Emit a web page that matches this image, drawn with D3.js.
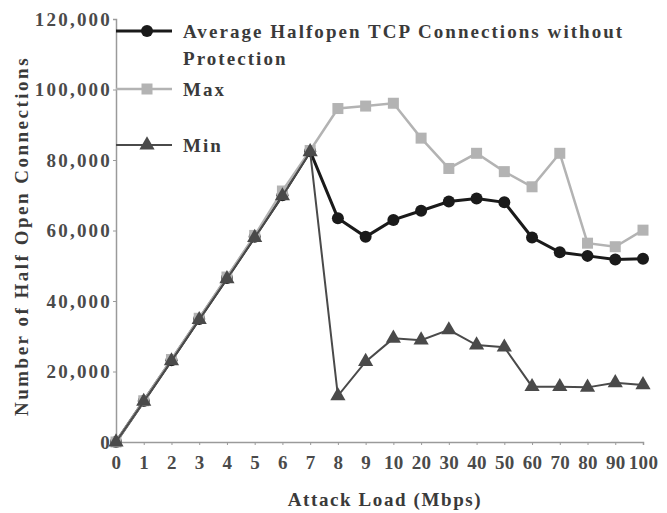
<!DOCTYPE html>
<html>
<head>
<meta charset="utf-8">
<script src="https://cdn.jsdelivr.net/npm/d3@7"></script>
<style>
  body { margin: 0; background: #fff; }
  svg text { font-family: "Liberation Serif", "DejaVu Serif", serif; fill: #3a3a3a; }
</style>
</head>
<body>
<svg id="chart"></svg>
<script>
// attack load categories (Mbps)
let loads = ["0","1","2","3","4","5","6","7","8","9","10","20","30","40","50","60","70","80","90","100"];

let avgConn = [0, 11600, 23200, 34900, 46500, 58200, 70000, 82500, 63500, 58200, 63000, 65600, 68200, 69100, 68000, 58000, 53800, 52800, 51800, 52000];
let maxConn = [0, 11700, 23400, 35100, 46800, 58600, 71200, 82700, 94600, 95300, 96100, 86200, 77600, 81900, 76700, 72400, 81900, 56400, 55400, 60100];
let minConn = [0, 11500, 23000, 34700, 46300, 58000, 69800, 82300, 13100, 22800, 29400, 28900, 31800, 27500, 26900, 15700, 15700, 15500, 16800, 16200];

let yTicks = [0, 20000, 40000, 60000, 80000, 100000, 120000];

let legendNames = ["Average Halfopen TCP Connections without", "Max", "Min"];

let width = 667;
let height = 513;
let padL = 116, padR = 643, padT = 19, padB = 442;

let svg = d3.select('#chart').attr('width', width).attr('height', height);

let xScale = d3.scalePoint()
  .domain(loads)
  .range([padL, padR]);

let yScale = d3.scaleLinear()
  .domain([0, 120000])
  .range([padB, padT]);

// x axis
let xAxis = d3.axisBottom(xScale).tickSize(3).tickPadding(11);
let gx = svg.append("g")
  .attr("transform", "translate(0," + padB + ")")
  .call(xAxis);
gx.select(".domain").attr("stroke", "#9a9a9a").attr("stroke-width", 1.5);
gx.selectAll(".tick line").attr("stroke", "#9a9a9a");
gx.selectAll("text")
  .attr("font-size", 19)
  .attr("font-weight", "bold")
  .style("fill", "#4a4a4a")
  .attr("letter-spacing", "0.3px");

// y axis
let yAxis = d3.axisLeft(yScale)
  .tickValues(yTicks)
  .tickSize(3)
  .tickPadding(1)
  .tickFormat(d3.format(","));
let gy = svg.append("g")
  .attr("transform", "translate(" + padL + ",0)")
  .call(yAxis);
gy.select(".domain").attr("stroke", "#9a9a9a").attr("stroke-width", 1.5);
gy.selectAll(".tick line").attr("stroke", "#9a9a9a");
gy.selectAll("text")
  .attr("font-size", 19)
  .attr("font-weight", "bold")
  .style("fill", "#4a4a4a")
  .attr("letter-spacing", "2.2px");

// axis titles
svg.append("text")
  .attr("x", 385)
  .attr("y", 506)
  .attr("text-anchor", "middle")
  .attr("font-size", 19)
  .attr("font-weight", "bold")
  .attr("letter-spacing", "1.6px")
  .text("Attack Load (Mbps)");

svg.append("text")
  .attr("transform", "translate(28,236) rotate(-90)")
  .attr("text-anchor", "middle")
  .attr("font-size", 19)
  .attr("font-weight", "bold")
  .attr("letter-spacing", "2.5px")
  .text("Number of Half Open Connections");

let line = d3.line()
  .x((d, i) => xScale(loads[i]))
  .y(d => yScale(d));

let series = [
  { name: legendNames[0], values: avgConn, color: "#1a1a1a", width: 3, shape: "circle" },
  { name: legendNames[1], values: maxConn, color: "#b3b3b3", width: 2.5, shape: "square" },
  { name: legendNames[2], values: minConn, color: "#4a4a4a", width: 2, shape: "triangle" }
];

function marker(g, shape, color, x, y) {
  if (shape === "circle") {
    g.append("circle").attr("cx", x).attr("cy", y).attr("r", 6).attr("fill", color);
  } else if (shape === "square") {
    g.append("rect").attr("x", x - 5.5).attr("y", y - 5.5).attr("width", 11).attr("height", 11).attr("fill", color);
  } else {
    g.append("path")
      .attr("d", d3.symbol().type(d3.symbolTriangle).size(100)())
      .attr("transform", "translate(" + x + "," + y + ")")
      .attr("fill", color);
  }
}

series.forEach(s => {
  let g = svg.append("g");
  g.append("path")
    .datum(s.values)
    .attr("d", line)
    .attr("fill", "none")
    .attr("stroke", s.color)
    .attr("stroke-width", s.width);
  s.values.forEach((v, i) => {
    marker(g, s.shape, s.color, xScale(loads[i]), yScale(v));
  });
});

// legend
let legendY = [31, 89, 145];
series.forEach((s, i) => {
  let g = svg.append("g");
  g.append("line")
    .attr("x1", padL).attr("x2", 172)
    .attr("y1", legendY[i]).attr("y2", legendY[i])
    .attr("stroke", s.color)
    .attr("stroke-width", s.width);
  marker(g, s.shape, s.color, 147, legendY[i]);
  g.append("text")
    .attr("x", 183)
    .attr("y", legendY[i] + 7)
    .attr("font-size", 19)
    .attr("font-weight", "bold")
    .attr("letter-spacing", "2.05px")
    .text(s.name);
});
svg.append("text")
  .attr("x", 183)
  .attr("y", 65)
  .attr("font-size", 19)
  .attr("font-weight", "bold")
  .attr("letter-spacing", "2.05px")
  .text("Protection");
</script>
</body>
</html>
